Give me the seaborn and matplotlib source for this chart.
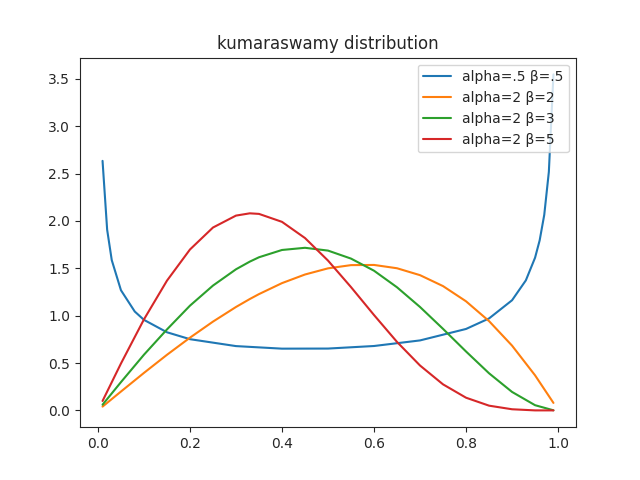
import numpy as np
import pandas as pd
import matplotlib
matplotlib.use('Agg')
import matplotlib.pyplot as plt
import seaborn as sns

# values
x_blue = [0.01, 0.02, 0.03, 0.05, 0.08, 0.1, 0.15, 0.2, 0.3, 0.4, 0.5, 0.6, 0.7, 0.8,
          0.85, 0.9, 0.93, 0.95, 0.96, 0.97, 0.98, 0.99]
y_blue = [2.635, 1.908, 1.587, 1.269, 1.044, 0.956, 0.825, 0.752, 0.679, 0.652, 0.653,
          0.680, 0.739, 0.860, 0.971, 1.163, 1.373, 1.612, 1.795, 2.065, 2.519, 3.548]

x_grid = [0.01, 0.05, 0.1, 0.15, 0.2, 0.25, 0.3, 0.33, 0.35, 0.4, 0.45, 0.5, 0.55, 0.6,
          0.65, 0.7, 0.75, 0.8, 0.85, 0.9, 0.95, 0.99]
y_orange = [0.040, 0.199, 0.396, 0.587, 0.768, 0.9375, 1.092, 1.176, 1.228, 1.344, 1.435,
            1.5, 1.534, 1.536, 1.501, 1.428, 1.3125, 1.152, 0.943, 0.684, 0.3705, 0.079]
y_green = [0.060, 0.2985, 0.588, 0.855, 1.106, 1.318, 1.490, 1.571, 1.617, 1.694, 1.717,
           1.6875, 1.603, 1.475, 1.300, 1.092, 0.861, 0.622, 0.392, 0.195, 0.055, 0.001]
y_red = [0.0996, 0.495, 0.961, 1.370, 1.699, 1.931, 2.057, 2.081, 2.075, 1.991, 1.820,
         1.582, 1.302, 1.007, 0.723, 0.474, 0.275, 0.134, 0.050, 0.012, 0.0001, 0.0]

labels = ['alpha=.5 β=.5', 'alpha=2 β=2', 'alpha=2 β=3', 'alpha=2 β=5']

sns.set_style('ticks')
plt.rcParams['font.family'] = ['DejaVu Sans']
fig, ax = plt.subplots(figsize=(6.4, 4.8), dpi=100)

sns.lineplot(x=x_blue, y=y_blue, label=labels[0], ax=ax)
sns.lineplot(x=x_grid, y=y_orange, label=labels[1], ax=ax)
sns.lineplot(x=x_grid, y=y_green, label=labels[2], ax=ax)
sns.lineplot(x=x_grid, y=y_red, label=labels[3], ax=ax)

ax.set_title('kumaraswamy distribution')
ax.set_xlim(-0.039, 1.039)
ax.legend(loc='upper right')
plt.savefig('out.png', dpi=100)
